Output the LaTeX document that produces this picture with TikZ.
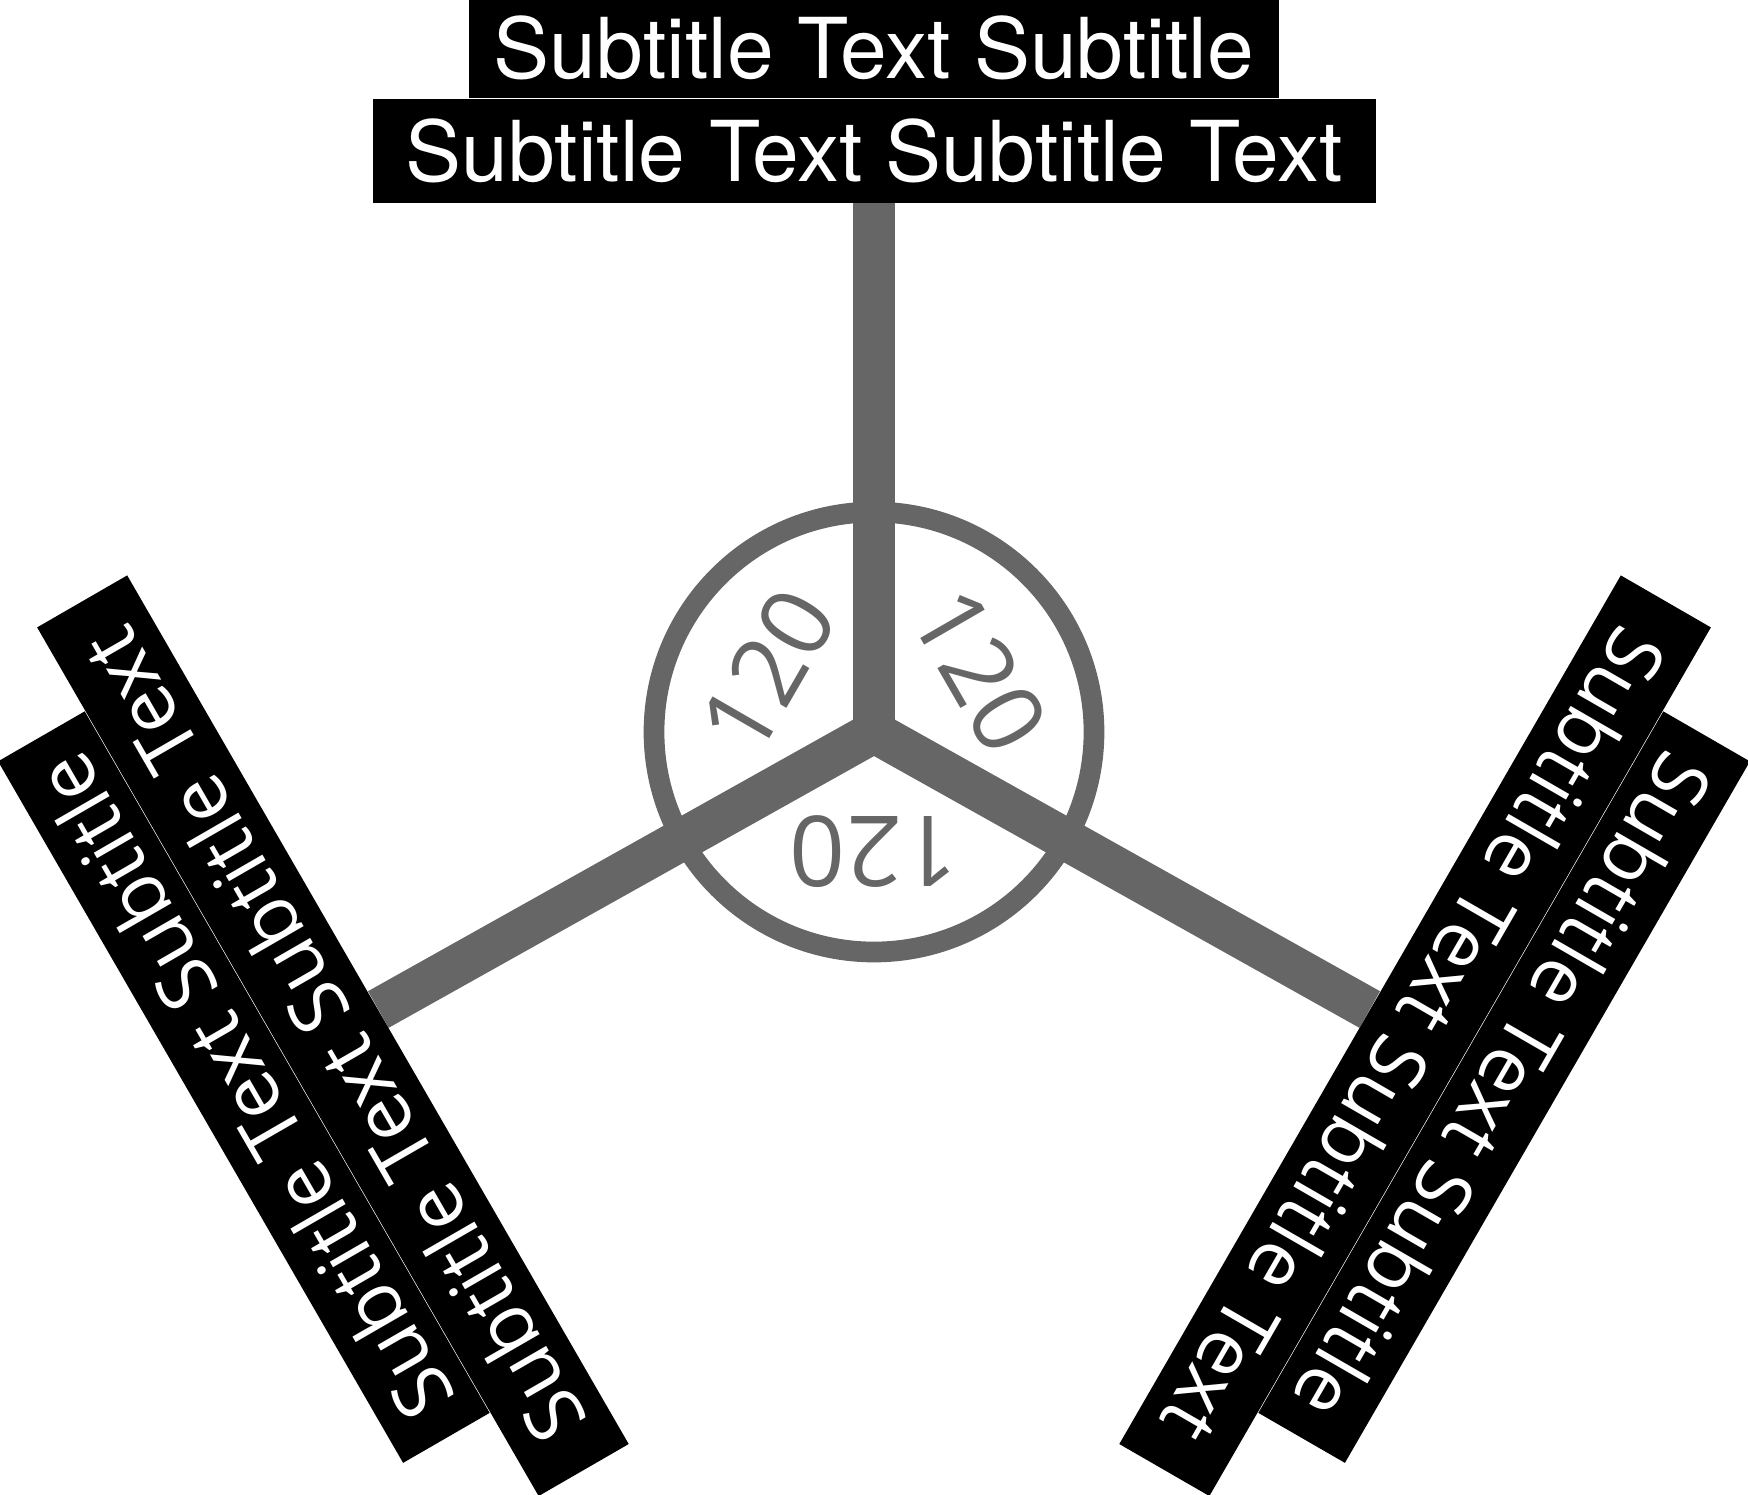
\documentclass[tikz,border=0pt]{standalone}
\usepackage{fontspec}
\newfontfamily\topfont{TeX Gyre Heros}
\newfontfamily\sidefont[Ligatures=NoCommon]{Open Sans}
\usetikzlibrary{backgrounds}
\definecolor{spokegray}{RGB}{102,102,102}
\tikzset{
  linetwo/.style={fill=black, text=white, minimum width=501.5pt, minimum height=52pt, inner sep=0pt, anchor=south},
  lineone/.style={fill=black, text=white, minimum width=405pt, minimum height=50pt, inner sep=0pt, anchor=south},
  spoke/.style={draw=spokegray, line width=21pt},
  ring/.style={draw=spokegray, line width=10.35pt},
  numlabel/.style={text=spokegray, font=\sidefont\fontsize{49pt}{56pt}\selectfont, inner sep=0pt},
  toptext/.style={font=\topfont\fontsize{42pt}{48pt}\selectfont},
  sidetext/.style={font=\sidefont\fontsize{39.5pt}{46pt}\selectfont},
}
\begin{document}
\begin{tikzpicture}[x=0.5pt,y=-0.5pt]
\useasboundingbox (0,0) rectangle (1748,1494);
\coordinate (hub) at (874,732);
% top label
\node[linetwo, toptext] (T2) at (874,203) {Subtitle Text Subtitle Text};
\node[lineone, toptext] (T1) at (T2.north) {Subtitle Text Subtitle};
% left label
\node[linetwo, sidetext, rotate=120] (L2) at (378.3,1009.5) {Subtitle Text Subtitle Text};
\node[lineone, sidetext, rotate=120] (L1) at (L2.north) {Subtitle Text Subtitle};
% right label
\node[linetwo, sidetext, rotate=-120] (R2) at (1369.7,1009.5) {Subtitle Text Subtitle Text};
\node[lineone, sidetext, rotate=-120] (R1) at (R2.north) {Subtitle Text Subtitle};
\begin{pgfonlayer}{background}
\draw[ring] (hub) circle[radius=220];
\draw[spoke] (hub) -- (T2.south);
\draw[spoke] (hub) -- (L2.south);
\draw[spoke] (hub) -- (R2.south);
\node[numlabel, rotate=60] (n1) at (768.3,671) {120};
\node[numlabel, rotate=-60] (n2) at (979.7,671) {120};
\node[numlabel, rotate=180] (n3) at (874,852) {120};
\end{pgfonlayer}
\end{tikzpicture}
\end{document}
